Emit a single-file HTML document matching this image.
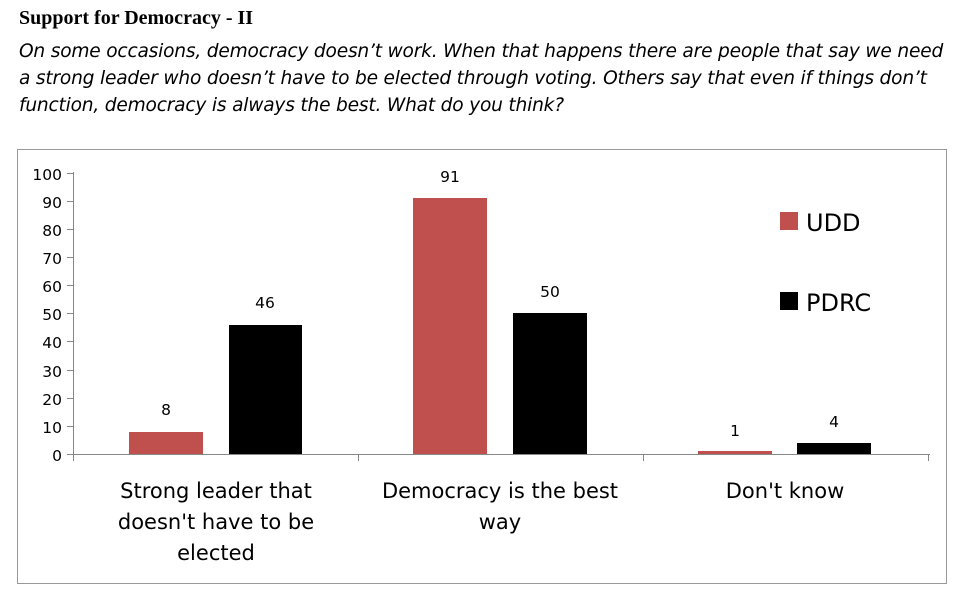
<!DOCTYPE html>
<html><head><meta charset="utf-8"><style>
body{margin:0;background:#fff;width:972px;height:608px;overflow:hidden;position:relative}
.t{position:absolute;left:19px;top:7px;font:bold 20px "Liberation Serif",serif;color:#000}
.s{position:absolute;left:19px;top:38px;width:960px;font:italic 18.6px "DejaVu Sans","Liberation Sans",sans-serif;color:#000;line-height:27px;letter-spacing:-0.2px;white-space:nowrap}
svg{position:absolute;left:0;top:0}
</style></head><body>
<div class="t">Support for Democracy - II</div>
<div class="s">On some occasions, democracy doesn’t work. When that happens there are people that say we need<br>a strong leader who doesn’t have to be elected through voting. Others say that even if things don’t<br>function, democracy is always the best. What do you think?</div>
<svg width="972" height="608" font-family="DejaVu Sans, Liberation Sans, sans-serif">
<rect x="17.5" y="149.5" width="929" height="434" fill="none" stroke="#999"/>
<g stroke="#888" stroke-width="1">
<line x1="73.5" y1="172" x2="73.5" y2="455"/>
<line x1="67" y1="454.5" x2="930" y2="454.5"/>
<line x1="67" y1="173.5" x2="73" y2="173.5"/><line x1="67" y1="201.5" x2="73" y2="201.5"/><line x1="67" y1="229.5" x2="73" y2="229.5"/><line x1="67" y1="257.5" x2="73" y2="257.5"/><line x1="67" y1="285.5" x2="73" y2="285.5"/><line x1="67" y1="313.5" x2="73" y2="313.5"/><line x1="67" y1="341.5" x2="73" y2="341.5"/><line x1="67" y1="370.5" x2="73" y2="370.5"/><line x1="67" y1="398.5" x2="73" y2="398.5"/><line x1="67" y1="426.5" x2="73" y2="426.5"/>
<line x1="73.5" y1="454" x2="73.5" y2="461"/><line x1="358.5" y1="454" x2="358.5" y2="461"/><line x1="643.5" y1="454" x2="643.5" y2="461"/><line x1="928.5" y1="454" x2="928.5" y2="461"/>
</g>
<g font-size="15.5" text-anchor="end" fill="#000">
<text x="62" y="180">100</text><text x="62" y="208">90</text><text x="62" y="236">80</text><text x="62" y="264">70</text><text x="62" y="292">60</text><text x="62" y="320">50</text><text x="62" y="348">40</text><text x="62" y="377">30</text><text x="62" y="405">20</text><text x="62" y="433">10</text><text x="62" y="461">0</text>
</g>
<g fill="#c0504d"><rect x="129" y="432" width="74" height="22"/><rect x="413" y="198" width="74" height="256"/><rect x="698" y="451" width="74" height="3"/></g>
<g fill="#000"><rect x="229" y="325" width="73" height="129"/><rect x="513" y="313" width="74" height="141"/><rect x="797" y="443" width="74" height="11"/></g>
<g font-size="15.5" text-anchor="middle">
<text x="166" y="415">8</text><text x="265" y="308">46</text><text x="450" y="182">91</text><text x="550" y="297">50</text><text x="735" y="436">1</text><text x="834" y="427">4</text>
</g>
<g font-size="21" text-anchor="middle">
<text x="216" y="498">Strong leader that</text><text x="216" y="529">doesn't have to be</text><text x="216" y="560">elected</text>
<text x="500" y="498">Democracy is the best</text><text x="500" y="529">way</text>
<text x="785" y="498">Don't know</text>
</g>
<rect x="780" y="212" width="18" height="18" fill="#c0504d"/>
<rect x="780" y="292" width="18" height="18" fill="#000"/>
<g font-size="24"><text x="806" y="231">UDD</text><text x="806" y="311">PDRC</text></g>
</svg>
</body></html>
